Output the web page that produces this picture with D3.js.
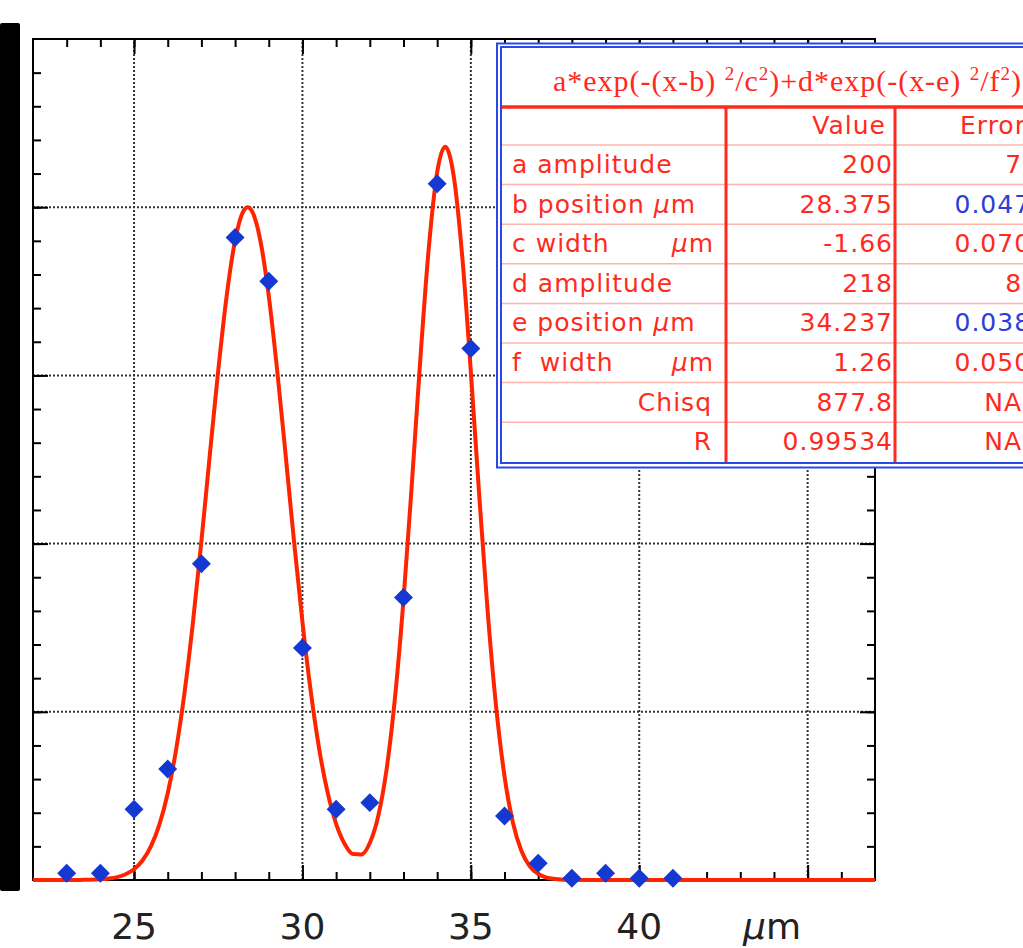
<!DOCTYPE html>
<html>
<head>
<meta charset="utf-8">
<script src="https://cdn.jsdelivr.net/npm/d3@7"></script>
<style>
body { margin: 0; background: #fff; }
svg { display: block; }
.tick text { display: none; }
.domain { display: none; }
.tick line { stroke: #000; stroke-width: 2; }
.tbl { font-family: "DejaVu Sans", sans-serif; font-size: 25px; letter-spacing: 1px; fill: #ff2a1e; white-space: pre; }
</style>
</head>
<body>
<script>
// measured points (µm, counts)
var positions = [23, 24, 25, 26, 27, 28, 29, 30, 31, 32, 33, 34, 35, 36, 37, 38, 39, 40, 41];
var counts = [2, 2, 21, 33, 94, 191, 178, 69, 21, 23, 84, 207, 158, 19, 5, 0.5, 2, 0.5, 0.5];

// fitted curve
var fitX = [22, 23, 23.5, 24, 24.25, 24.5, 24.75, 25, 25.25, 25.5, 25.75, 26, 26.25, 26.5, 26.75,
    27, 27.25, 27.5, 27.75, 28, 28.25, 28.375, 28.5, 28.75, 29, 29.25, 29.5, 29.75, 30, 30.25,
    30.5, 30.75, 31, 31.25, 31.5, 31.75, 32, 32.25, 32.5, 32.75, 33, 33.25, 33.5, 33.75, 34,
    34.237, 34.5, 34.75, 35, 35.25, 35.5, 35.75, 36, 36.25, 36.5, 36.75, 37, 37.25, 37.5, 38, 39, 47];
var fitY = [0, 0, 0.04, 0.19, 0.42, 0.86, 1.7, 3.2, 5.8, 10.0, 16.4, 25.8, 38.8, 55.8, 76.7,
    100.7, 126.4, 151.5, 173.6, 190.1, 198.9, 200, 198.9, 190.1, 173.6, 151.5, 126.4, 100.7, 76.7, 55.8,
    38.8, 25.9, 16.7, 10.8, 7.7, 7.6, 11.0, 19.0, 33.0, 54.4, 83.2, 118.0, 154.8, 187.7, 210.4,
    218, 208.7, 184.7, 151.1, 114.2, 79.8, 51.6, 30.8, 17.0, 8.7, 4.1, 1.8, 0.7, 0.3, 0, 0, 0];

var xTickLabels = [25, 30, 35, 40];
var xGrid = [25, 30, 35, 40, 45];
var yGrid = [50, 100, 150, 200];
var xMinor = d3.range(23, 47);
var yMinor = d3.range(10, 250, 10);

// fit results table
var titleParts = [['a*exp(-(x-b) ', 0], ['2', 1], ['/c', 0], ['2', 1], [')+d*exp(-(x-e) ', 0],
    ['2', 1], ['/f', 0], ['2', 1], [')', 0]];
var paramLabels = ['a amplitude', 'b position ', 'c width', 'd amplitude', 'e position ', 'f  width', 'Chisq', 'R'];
var inlineUnit = [false, true, false, false, true, false, false, false];
var rightUnit = [false, false, true, false, false, true, false, false];
var paramValues = ['200', '28.375', '-1.66', '218', '34.237', '1.26', '877.8', '0.99534'];
var paramErrors = ['7.2', '0.0474', '0.0703', '8.1', '0.0385', '0.0505', 'NA', 'NA'];
var errorBlue = [false, true, false, false, true, false, false, false];

var W = 1023, H = 948;
var svg = d3.select('body').append('svg')
    .attr('width', W)
    .attr('height', H);
svg.append('rect').attr('width', W).attr('height', H).attr('fill', '#fff');
// dark strip on the left edge
svg.append('rect')
    .attr('x', 0).attr('y', 23)
    .attr('width', 20).attr('height', 868)
    .attr('rx', 2)
    .attr('fill', '#000');

var x = d3.scaleLinear().domain([22, 47]).range([33, 875]);
var y = d3.scaleLinear().domain([0, 250]).range([880, 39]);

// dotted grid
var grid = svg.append('g')
    .attr('stroke', '#333')
    .attr('stroke-width', 2)
    .attr('stroke-dasharray', '2,2');
grid.selectAll('.gx').data(xGrid).enter().append('line')
    .attr('x1', d => x(d)).attr('x2', d => x(d))
    .attr('y1', y(0)).attr('y2', y(250));
grid.selectAll('.gy').data(yGrid).enter().append('line')
    .attr('x1', x(22)).attr('x2', x(47))
    .attr('y1', d => y(d)).attr('y2', d => y(d));

// inward ticks on all four sides
function ticks(axisFn, scale, values, size, tx, ty) {
    svg.append('g')
        .attr('transform', 'translate(' + tx + ',' + ty + ')')
        .call(axisFn(scale).tickValues(values).tickSize(-size).tickFormat(''));
}
ticks(d3.axisBottom, x, xMinor, 8, 0, 880);
ticks(d3.axisBottom, x, xGrid, 15, 0, 880);
ticks(d3.axisTop, x, xMinor, 8, 0, 39);
ticks(d3.axisTop, x, xGrid, 15, 0, 39);
ticks(d3.axisLeft, y, yMinor, 8, 33, 0);
ticks(d3.axisLeft, y, yGrid, 15, 33, 0);
ticks(d3.axisRight, y, yMinor, 8, 875, 0);
ticks(d3.axisRight, y, yGrid, 15, 875, 0);

svg.append('rect')
    .attr('x', x(22)).attr('y', y(250))
    .attr('width', x(47) - x(22)).attr('height', y(0) - y(250))
    .attr('fill', 'none')
    .attr('stroke', '#000')
    .attr('stroke-width', 2);

// x tick labels
svg.append('g').selectAll('text').data(xTickLabels).enter().append('text')
    .attr('x', d => x(d))
    .attr('y', 939)
    .attr('text-anchor', 'middle')
    .attr('font-family', '"DejaVu Sans", sans-serif')
    .attr('font-size', 36)
    .attr('fill', '#222')
    .text(d => d);
var unitLbl = svg.append('text')
    .attr('x', 772).attr('y', 939)
    .attr('text-anchor', 'middle')
    .attr('font-family', '"DejaVu Sans", sans-serif')
    .attr('font-size', 36)
    .attr('fill', '#222');
unitLbl.append('tspan').attr('font-style', 'italic').text('µ');
unitLbl.append('tspan').text('m');

// fit curve
var line = d3.line()
    .x(d => x(d[0]))
    .y(d => y(d[1]))
    .curve(d3.curveMonotoneX);
svg.append('path')
    .datum(fitX.map((v, i) => [v, fitY[i]]))
    .attr('d', line)
    .attr('fill', 'none')
    .attr('stroke', '#ff2400')
    .attr('stroke-width', 4)
    .attr('stroke-linejoin', 'round');

// data points as diamonds
svg.append('g').selectAll('path').data(positions).enter().append('path')
    .attr('d', d3.symbol().type(d3.symbolSquare).size(180))
    .attr('transform', (d, i) => 'translate(' + x(d) + ',' + y(counts[i]) + ') rotate(45)')
    .attr('fill', '#1438d2');

// results table
var tb = svg.append('g');
var rowTop = 145, rowH = 39.6;
tb.append('rect')
    .attr('x', 497).attr('y', 43.5)
    .attr('width', 600).attr('height', 424)
    .attr('fill', '#fff')
    .attr('stroke', '#2a48e6')
    .attr('stroke-width', 2);
tb.append('rect')
    .attr('x', 501).attr('y', 47)
    .attr('width', 600).attr('height', 416)
    .attr('fill', 'none')
    .attr('stroke', '#2a48e6')
    .attr('stroke-width', 2);
tb.selectAll('.rowline').data(d3.range(paramLabels.length)).enter().append('line')
    .attr('x1', 502).attr('x2', W)
    .attr('y1', i => rowTop + i * rowH).attr('y2', i => rowTop + i * rowH)
    .attr('stroke', '#ffb4aa')
    .attr('stroke-width', 1.5);
tb.append('line')
    .attr('x1', 502).attr('x2', W)
    .attr('y1', 107).attr('y2', 107)
    .attr('stroke', '#ff2a1e').attr('stroke-width', 3.5);
[726, 895].forEach(function(cx) {
    tb.append('line')
        .attr('x1', cx).attr('x2', cx)
        .attr('y1', 107).attr('y2', 462)
        .attr('stroke', '#ff2a1e').attr('stroke-width', 3);
});

var title = tb.append('text')
    .attr('x', 553).attr('y', 91)
    .attr('font-family', '"Liberation Serif", serif')
    .attr('font-size', 30)
    .attr('textLength', 468)
    .attr('lengthAdjust', 'spacing')
    .attr('fill', '#ff2a1e');
titleParts.forEach(function(p, i) {
    var prevSup = i > 0 && titleParts[i - 1][1];
    var t = title.append('tspan').text(p[0]);
    if (p[1]) t.attr('font-size', 19).attr('dy', -11);
    else if (prevSup) t.attr('dy', 11);
});

tb.append('text').attr('class', 'tbl')
    .attr('x', 886).attr('y', 134)
    .attr('text-anchor', 'end')
    .text('Value');
tb.append('text').attr('class', 'tbl')
    .attr('x', 960).attr('y', 134)
    .text('Error');

var rows = tb.selectAll('.row').data(paramLabels).enter().append('g')
    .attr('transform', (d, i) => 'translate(0,' + (rowTop + i * rowH + 28) + ')');
rows.each(function(d, i) {
    var g = d3.select(this);
    var stat = (d === 'Chisq' || d === 'R');
    var lbl = g.append('text').attr('class', 'tbl')
        .attr('x', stat ? 712 : 512)
        .attr('text-anchor', stat ? 'end' : 'start')
        .text(d);
    if (inlineUnit[i]) {
        lbl.append('tspan').attr('font-style', 'italic').text('µ');
        lbl.append('tspan').text('m');
    }
    if (rightUnit[i]) {
        var u = g.append('text').attr('class', 'tbl')
            .attr('x', 714)
            .attr('text-anchor', 'end');
        u.append('tspan').attr('font-style', 'italic').text('µ');
        u.append('tspan').text('m');
    }
    g.append('text').attr('class', 'tbl')
        .attr('x', 893)
        .attr('text-anchor', 'end')
        .text(paramValues[i]);
    g.append('text').attr('class', 'tbl')
        .attr('x', paramErrors[i] === 'NA' ? 1022 : 1048)
        .attr('text-anchor', 'end')
        .style('fill', errorBlue[i] ? '#2a3fd8' : null)
        .text(paramErrors[i]);
});
</script>
</body>
</html>
